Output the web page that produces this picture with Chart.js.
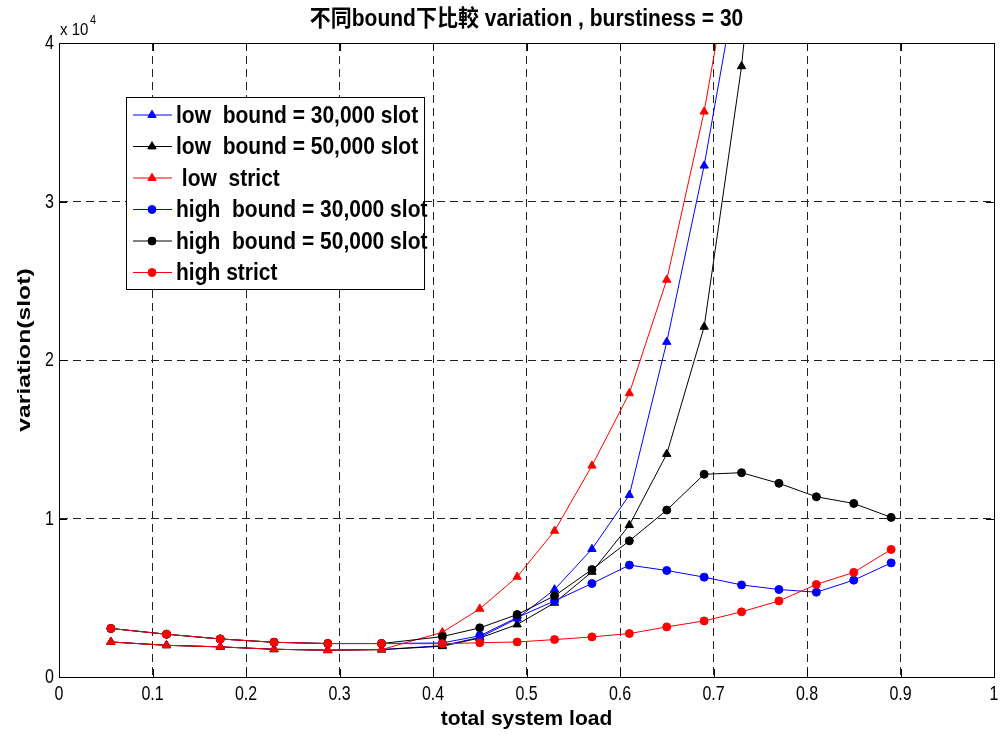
<!DOCTYPE html>
<html>
<head>
<meta charset="utf-8">
<script src="https://cdn.jsdelivr.net/npm/chart.js@4.4.0/dist/chart.umd.min.js"></script>
<style>
  html, body { margin: 0; padding: 0; background: #fff; }
  #wrap { width: 1001px; height: 735px; }
</style>
</head>
<body>
<div id="wrap"><canvas id="varChart" width="1001" height="735"></canvas></div>
<script>
// ==================== variation vs. total system load ====================

const FONT = "'Liberation Sans', Arial, 'Noto Sans CJK TC', sans-serif";

const titleText = '不同bound下比較 variation , burstiness = 30';
const xLabel = 'total system load';
const yLabel = 'variation(slot)';

// x 軸：系統負載
const loads = [0.0555, 0.115, 0.1725, 0.23, 0.2875, 0.345, 0.41, 0.45, 0.49, 0.53,
               0.57, 0.61, 0.65, 0.69, 0.73, 0.77, 0.81, 0.85, 0.89];

// 各曲線 variation 值 (slot)，超出上界後以 null 結束
const lowBound30  = [2210, 2000, 1900, 1750, 1690, 1730, 1980, 2500, 3690, 5520,
                     8070, 11480, 21140, 32260, 45600, null, null, null, null];
const lowBound50  = [2210, 2000, 1900, 1750, 1690, 1730, 1940, 2460, 3310, 4680,
                     6630, 9580, 14070, 22090, 38530, 62000, null, null, null];
const lowStrict   = [2210, 2000, 1900, 1750, 1690, 1730, 2820, 4300, 6320, 9220,
                     13330, 17900, 25060, 35670, 49100, null, null, null, null];
const highBound30 = [3060, 2700, 2400, 2190, 2110, 2110, 2150, 2600, 3750, 4800,
                     5900, 7060, 6720, 6300, 5810, 5520, 5350, 6110, 7200];
const highBound50 = [3060, 2700, 2400, 2190, 2110, 2110, 2550, 3100, 3940, 5120,
                     6780, 8590, 10530, 12790, 12890, 12220, 11370, 10950, 10070];
const highStrict  = [3060, 2700, 2400, 2190, 2110, 2110, 2100, 2160, 2210, 2360,
                     2530, 2740, 3160, 3540, 4110, 4800, 5840, 6600, 8050];

// 刻度
const xTicks = [0, 0.1, 0.2, 0.3, 0.4, 0.5, 0.6, 0.7, 0.8, 0.9, 1];
const yTicks = [0, 10000, 20000, 30000, 40000];

const seriesDefs = [
    { label: 'low  bound = 30,000 slot',  data: lowBound30,  color: '#0000ff', style: 'triangle' },
    { label: 'low  bound = 50,000 slot',  data: lowBound50,  color: '#000000', style: 'triangle' },
    { label: ' low  strict',              data: lowStrict,   color: '#ff0000', style: 'triangle' },
    { label: 'high  bound = 30,000 slot', data: highBound30, color: '#0000ff', style: 'circle' },
    { label: 'high  bound = 50,000 slot', data: highBound50, color: '#000000', style: 'circle' },
    { label: 'high strict',               data: highStrict,  color: '#ff0000', style: 'circle' }
];

/**
 * 畫文字（可拉伸、可旋轉）
 */
function drawText(ctx, txt, x, y, o) {
    ctx.save();
    ctx.translate(x, y);
    if (o.rotate) ctx.rotate(o.rotate);
    ctx.scale(o.sx || 1, o.sy || 1);
    ctx.font = `${o.weight || 'normal'} ${o.size}px ${FONT}`;
    ctx.fillStyle = '#000';
    ctx.textAlign = o.align || 'center';
    ctx.textBaseline = 'middle';
    ctx.fillText(txt, 0, 0);
    ctx.restore();
}

// 外框、刻度線、刻度文字、標題、圖例
const decorPlugin = {
    id: 'decor',
    afterDatasetsDraw(chart) {
        const ctx = chart.ctx;
        const a = chart.chartArea;
        const xs = chart.scales.x;
        const ys = chart.scales.y;

        ctx.save();
        ctx.strokeStyle = '#000';
        ctx.lineWidth = 1;
        ctx.setLineDash([]);

        // 內側刻度線
        ctx.beginPath();
        xs.ticks.forEach(t => {
            const px = Math.round(xs.getPixelForValue(t.value)) + 0.5;
            ctx.moveTo(px, a.bottom); ctx.lineTo(px, a.bottom - 8);
            ctx.moveTo(px, a.top); ctx.lineTo(px, a.top + 8);
        });
        ys.ticks.forEach(t => {
            const py = Math.round(ys.getPixelForValue(t.value)) + 0.5;
            ctx.moveTo(a.left, py); ctx.lineTo(a.left + 8, py);
            ctx.moveTo(a.right, py); ctx.lineTo(a.right - 8, py);
        });
        ctx.stroke();

        // 座標框
        ctx.strokeRect(Math.round(a.left) + 0.5, Math.round(a.top) + 0.5,
                       Math.round(a.right - a.left), Math.round(a.bottom - a.top));
        ctx.restore();

        // 刻度文字
        xs.ticks.forEach(t => {
            const px = xs.getPixelForValue(t.value);
            drawText(ctx, String(Math.round(t.value * 10) / 10), px, a.bottom + 18, { size: 16, sy: 1.22 });
        });
        ys.ticks.forEach(t => {
            const py = ys.getPixelForValue(t.value);
            drawText(ctx, String(t.value / 10000), a.left - 5, py + 1, { size: 16, sy: 1.22, align: 'right' });
        });
        drawText(ctx, 'x 10', a.left + 1, a.top - 13, { size: 15, sy: 1.15, align: 'left' });
        drawText(ctx, '4', a.left + 31, a.top - 22, { size: 11, sy: 1.15, align: 'left' });

        // 標題與軸標籤
        drawText(ctx, titleText, (a.left + a.right) / 2, 20, { size: 21, weight: 'bold', sy: 1.1 });
        drawText(ctx, xLabel, (a.left + a.right) / 2, 719, { size: 21, weight: 'bold' });
        drawText(ctx, yLabel, 25, 350, { size: 19, sx: 1.3, weight: 'bold', rotate: -Math.PI / 2 });

        // 圖例
        const box = { x: 126, y: 97, w: 298, h: 192 };
        ctx.save();
        ctx.fillStyle = '#fff';
        ctx.fillRect(box.x, box.y, box.w, box.h);
        ctx.strokeStyle = '#000';
        ctx.lineWidth = 1;
        ctx.strokeRect(box.x + 0.5, box.y + 0.5, box.w, box.h);
        ctx.restore();

        chart.data.datasets.forEach((ds, i) => {
            const ry = 115 + i * 31.5;
            ctx.save();
            ctx.strokeStyle = ds.borderColor;
            ctx.fillStyle = ds.borderColor;
            ctx.lineWidth = 1;
            ctx.beginPath();
            ctx.moveTo(133, ry); ctx.lineTo(172, ry);
            ctx.stroke();
            Chart.helpers.drawPoint(ctx, {
                pointStyle: ds.pointStyle, radius: ds.pointRadius, rotation: 0, borderWidth: 1
            }, 152, ry);
            ctx.restore();
            drawText(ctx, ds.label, 176, ry + 1, { size: 21, weight: 'bold', sy: 1.15, align: 'left' });
        });
    }
};

const datasets = seriesDefs.map((s, i) => ({
    label: s.label,
    data: loads.map((x, j) => ({ x: x, y: s.data[j] })),
    borderColor: s.color,
    backgroundColor: s.color,
    borderWidth: 1,
    pointStyle: s.style,
    pointRadius: s.style === 'triangle' ? 4.8 : 4,
    pointBorderWidth: 1,
    pointBackgroundColor: s.color,
    pointBorderColor: s.color,
    tension: 0,
    spanGaps: false,
    order: seriesDefs.length - i   // 後畫的在上層
}));

const gridStyle = {
    color: '#222',
    lineWidth: 1,
    drawTicks: false
};

new Chart(document.getElementById('varChart'), {
    type: 'line',
    data: { datasets: datasets },
    plugins: [decorPlugin],
    options: {
        responsive: false,
        animation: false,
        devicePixelRatio: 1,
        layout: { padding: { top: 43, right: 7, left: 0, bottom: 0 } },
        plugins: {
            legend: { display: false },
            title: { display: false },
            tooltip: { enabled: false }
        },
        scales: {
            x: {
                type: 'linear',
                min: 0,
                max: 1,
                afterBuildTicks: s => { s.ticks = xTicks.map(v => ({ value: v })); },
                afterFit: s => { s.height = 58; },
                ticks: { display: false },
                grid: gridStyle,
                border: { display: true, color: '#000', dash: [8, 5] }
            },
            y: {
                type: 'linear',
                min: 0,
                max: 40000,
                afterBuildTicks: s => { s.ticks = yTicks.map(v => ({ value: v })); },
                afterFit: s => { s.width = 59; },
                ticks: { display: false },
                grid: gridStyle,
                border: { display: true, color: '#000', dash: [8, 5] }
            }
        }
    }
});
</script>
</body>
</html>
